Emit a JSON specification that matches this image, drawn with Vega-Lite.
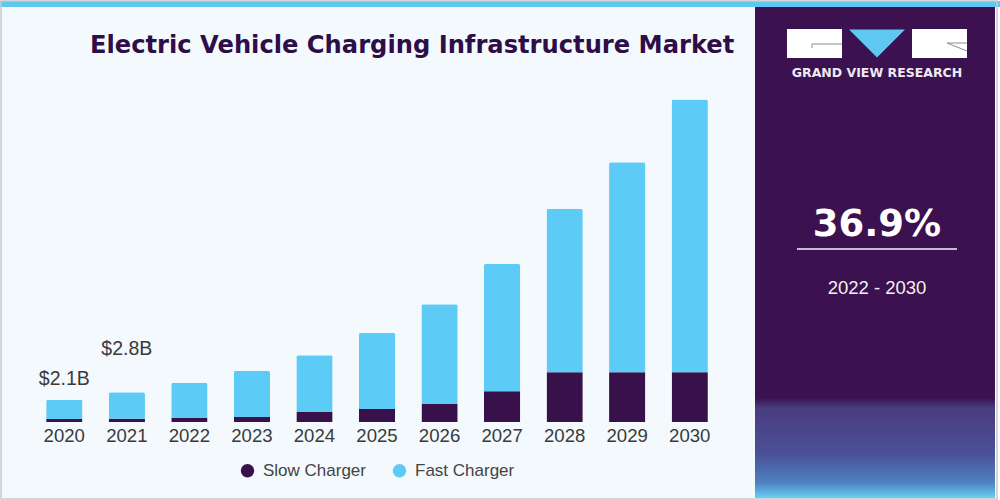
{
  "$schema": "https://vega.github.io/schema/vega-lite/v6.json",
  "width": 1000,
  "height": 500,
  "autosize": {"type": "fit", "contains": "padding"},
  "padding": 0,
  "background": "#ffffff",
  "config": {"view": {"stroke": null}},
  "datasets": {
    "market": [
      {"year": "2020", "type": "Slow Charger", "value": 0.28},
      {"year": "2020", "type": "Fast Charger", "value": 1.82},
      {"year": "2021", "type": "Slow Charger", "value": 0.3},
      {"year": "2021", "type": "Fast Charger", "value": 2.5},
      {"year": "2022", "type": "Slow Charger", "value": 0.38},
      {"year": "2022", "type": "Fast Charger", "value": 3.32},
      {"year": "2023", "type": "Slow Charger", "value": 0.47},
      {"year": "2023", "type": "Fast Charger", "value": 4.33},
      {"year": "2024", "type": "Slow Charger", "value": 0.94},
      {"year": "2024", "type": "Fast Charger", "value": 5.36},
      {"year": "2025", "type": "Slow Charger", "value": 1.23},
      {"year": "2025", "type": "Fast Charger", "value": 7.17},
      {"year": "2026", "type": "Slow Charger", "value": 1.7},
      {"year": "2026", "type": "Fast Charger", "value": 9.4},
      {"year": "2027", "type": "Slow Charger", "value": 2.9},
      {"year": "2027", "type": "Fast Charger", "value": 12.0},
      {"year": "2028", "type": "Slow Charger", "value": 4.7},
      {"year": "2028", "type": "Fast Charger", "value": 15.4},
      {"year": "2029", "type": "Slow Charger", "value": 4.7},
      {"year": "2029", "type": "Fast Charger", "value": 19.8},
      {"year": "2030", "type": "Slow Charger", "value": 4.7},
      {"year": "2030", "type": "Fast Charger", "value": 25.7}
    ],
    "labels": [
      {"year": "2020", "label": "$2.1B", "total": 2.1},
      {"year": "2021", "label": "$2.8B", "total": 2.8}
    ],
    "one": [{}]
  },
  "layer": [
    {
      "data": {"name": "one"},
      "mark": {"type": "rect", "fill": "#f3f9fd"},
      "encoding": {"x": {"value": 1}, "x2": {"value": 755}, "y": {"value": 6}, "y2": {"value": 497}}
    },
    {
      "data": {"name": "one"},
      "mark": {"type": "rect", "fill": "#3b1150"},
      "encoding": {"x": {"value": 755}, "x2": {"value": 995}, "y": {"value": 6}, "y2": {"value": 497}}
    },
    {
      "data": {"name": "one"},
      "mark": {
        "type": "rect",
        "fill": {
          "gradient": "linear", "x1": 0, "y1": 0, "x2": 0, "y2": 1,
          "stops": [
            {"offset": 0, "color": "#3b1150"},
            {"offset": 0.1, "color": "#4a3c80"},
            {"offset": 0.55, "color": "#4a5096"},
            {"offset": 0.85, "color": "#4f82c2"},
            {"offset": 1, "color": "#6ad0f5"}
          ]
        }
      },
      "encoding": {"x": {"value": 755}, "x2": {"value": 995}, "y": {"value": 397}, "y2": {"value": 497}}
    },
    {
      "data": {"name": "one"},
      "mark": {"type": "rect", "fill": "#5ec8f1"},
      "encoding": {"x": {"value": 0}, "x2": {"value": 1000}, "y": {"value": 0}, "y2": {"value": 6}}
    },
    {
      "data": {"name": "one"},
      "mark": {"type": "rect", "fill": null, "stroke": "#c8c8c8", "strokeWidth": 1.5},
      "encoding": {"x": {"value": 1}, "x2": {"value": 997}, "y": {"value": 0}, "y2": {"value": 498}}
    },
    {
      "data": {"name": "one"},
      "mark": {"type": "rect", "fill": "#ffffff"},
      "encoding": {"x": {"value": 787}, "x2": {"value": 842}, "y": {"value": 28}, "y2": {"value": 57}}
    },
    {
      "data": {"name": "one"},
      "mark": {"type": "rect", "fill": "#ffffff"},
      "encoding": {"x": {"value": 912}, "x2": {"value": 967}, "y": {"value": 28}, "y2": {"value": 57}}
    },
    {
      "data": {"name": "one"},
      "mark": {"type": "rule", "stroke": "#8a8a9a", "strokeWidth": 1},
      "encoding": {"x": {"value": 812}, "x2": {"value": 842}, "y": {"value": 43}, "y2": {"value": 43}}
    },
    {
      "data": {"name": "one"},
      "mark": {"type": "rule", "stroke": "#8a8a9a", "strokeWidth": 1},
      "encoding": {"x": {"value": 812}, "x2": {"value": 812}, "y": {"value": 43}, "y2": {"value": 47}}
    },
    {
      "data": {"name": "one"},
      "mark": {"type": "rule", "stroke": "#8a8a9a", "strokeWidth": 1},
      "encoding": {"x": {"value": 947}, "x2": {"value": 967}, "y": {"value": 42}, "y2": {"value": 42}}
    },
    {
      "data": {"name": "one"},
      "mark": {"type": "rule", "stroke": "#8a8a9a", "strokeWidth": 1},
      "encoding": {"x": {"value": 947}, "x2": {"value": 967}, "y": {"value": 42}, "y2": {"value": 50}}
    },
    {
      "data": {"name": "one"},
      "mark": {"type": "point", "shape": "M-1,-0.5L1,-0.5L0,0.5Z", "filled": true, "fill": "#5ec8f1", "size": 3136, "opacity": 1, "strokeWidth": 0},
      "encoding": {"x": {"value": 877}, "y": {"value": 42.5}}
    },
    {
      "data": {"name": "one"},
      "mark": {"type": "text", "text": "GRAND VIEW RESEARCH", "font": "DejaVu Sans", "fontWeight": "bold", "fontSize": 12.5, "fill": "#eeeaf2", "align": "center", "baseline": "alphabetic"},
      "encoding": {"x": {"value": 877}, "y": {"value": 76}}
    },
    {
      "data": {"name": "one"},
      "mark": {"type": "text", "text": "36.9%", "font": "DejaVu Sans", "fontWeight": "bold", "fontSize": 37, "fill": "#ffffff", "align": "center", "baseline": "alphabetic"},
      "encoding": {"x": {"value": 877}, "y": {"value": 235}}
    },
    {
      "data": {"name": "one"},
      "mark": {"type": "rule", "stroke": "#c9b9dc", "strokeWidth": 2},
      "encoding": {"x": {"value": 797}, "x2": {"value": 957}, "y": {"value": 248}, "y2": {"value": 248}}
    },
    {
      "data": {"name": "one"},
      "mark": {"type": "text", "text": "2022 - 2030", "font": "Liberation Sans", "fontSize": 18.5, "fill": "#f2f0f5", "align": "center", "baseline": "alphabetic"},
      "encoding": {"x": {"value": 877}, "y": {"value": 293}}
    },
    {
      "data": {"name": "one"},
      "mark": {"type": "text", "text": "Electric Vehicle Charging Infrastructure Market", "font": "DejaVu Sans", "fontWeight": "bold", "fontSize": 24.2, "fill": "#2e0e48", "align": "left", "baseline": "alphabetic"},
      "encoding": {"x": {"value": 90}, "y": {"value": 52}}
    },
    {
      "data": {"name": "market"},
      "mark": {"type": "bar", "cornerRadiusTopLeft": 2, "cornerRadiusTopRight": 2},
      "encoding": {
        "x": {
          "field": "year", "type": "nominal",
          "scale": {"type": "band", "range": [33, 721], "paddingInner": 0.42, "paddingOuter": 0.21},
          "axis": {
            "orient": "bottom", "offset": -79, "title": null, "domain": false, "ticks": false, "tickSize": 0,
            "labelPadding": 5, "labelAngle": 0, "labelFont": "Liberation Sans", "labelFontSize": 18.6,
            "labelColor": "#3a3a3a", "grid": false, "zindex": 1
          }
        },
        "y": {
          "field": "value", "type": "quantitative", "stack": "zero",
          "scale": {"domain": [0, 39.7], "range": [421, 0], "nice": false, "zero": true},
          "axis": null
        },
        "color": {
          "field": "type", "type": "nominal",
          "scale": {"domain": ["Slow Charger", "Fast Charger"], "range": ["#38104a", "#5ccbf5"]},
          "legend": {
            "title": null, "orient": "none", "legendX": 239, "legendY": 461, "direction": "horizontal",
            "symbolType": "circle", "symbolSize": 180, "symbolStrokeWidth": 0, "symbolOpacity": 1,
            "labelFont": "Liberation Sans", "labelFontSize": 17, "labelColor": "#444444",
            "labelOffset": 7, "columnPadding": 25, "padding": 0, "zindex": 1
          }
        },
        "order": {"field": "type", "sort": "descending"}
      }
    },
    {
      "data": {"name": "labels"},
      "transform": [{"filter": "datum.year == '2020'"}],
      "mark": {"type": "text", "font": "Liberation Sans", "fontSize": 19.5, "fill": "#3a3a3a", "align": "center", "baseline": "alphabetic", "dy": -15},
      "encoding": {
        "x": {"field": "year", "type": "nominal"},
        "y": {"field": "total", "type": "quantitative"},
        "text": {"field": "label"}
      }
    },
    {
      "data": {"name": "labels"},
      "transform": [{"filter": "datum.year == '2021'"}],
      "mark": {"type": "text", "font": "Liberation Sans", "fontSize": 19.5, "fill": "#3a3a3a", "align": "center", "baseline": "alphabetic", "dy": -37},
      "encoding": {
        "x": {"field": "year", "type": "nominal"},
        "y": {"field": "total", "type": "quantitative"},
        "text": {"field": "label"}
      }
    }
  ]
}
